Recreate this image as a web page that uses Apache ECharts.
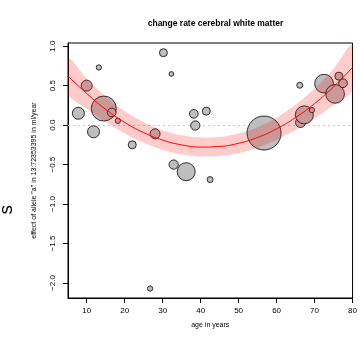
<!DOCTYPE html>
<html><head><meta charset="utf-8">
<script src="https://cdn.jsdelivr.net/npm/echarts@6/dist/echarts.min.js"></script>
<style>html,body{margin:0;padding:0;background:#fff}#c{width:360px;height:338px}</style>
</head><body><div id="c"></div>
<script>
// observed points: age, effect, weight (drawn circle diameter)
var ages    = [7.8, 10.0, 11.8, 13.2, 14.5, 16.6, 18.2, 22.0, 26.7, 28.0, 30.2, 32.3, 32.9, 36.2, 38.2, 38.6, 41.5, 42.5, 56.7, 66.1, 66.3, 67.3, 69.3, 72.5, 75.4, 76.4, 77.5];
var effects = [0.15, 0.50, -0.085, 0.73, 0.21, 0.16, 0.054, -0.25, -2.07, -0.11, 0.917, 0.648, -0.50, -0.59, 0.143, -0.005, 0.177, -0.69, -0.10, 0.505, 0.033, 0.13, 0.19, 0.525, 0.395, 0.62, 0.53];
var weights = [12, 11, 12, 5.3, 25, 8.7, 5.3, 8, 5.3, 10, 8, 4.7, 9.3, 18, 8.7, 9.3, 8, 6, 34, 6, 10, 18, 5.3, 18.7, 18.7, 8, 8.7];
// fitted curve and confidence band
var fitAges  = [5.08, 10, 15, 20, 25, 30, 35, 40, 45, 50, 55, 60, 65, 70, 75, 80];
var fitVals  = [0.62, 0.40, 0.20, 0.035, -0.095, -0.19, -0.25, -0.278, -0.27, -0.23, -0.156, -0.047, 0.097, 0.273, 0.485, 0.73];
var bandLow  = [0.39, 0.21, 0.04, -0.105, -0.225, -0.315, -0.37, -0.398, -0.39, -0.355, -0.286, -0.187, -0.063, 0.083, 0.255, 0.44];
var bandHigh = [0.85, 0.59, 0.36, 0.175, 0.035, -0.065, -0.13, -0.158, -0.15, -0.105, -0.026, 0.093, 0.257, 0.463, 0.715, 1.02];
var xTicks = [10, 20, 30, 40, 50, 60, 70, 80];
var yTicks = [-2.0, -1.5, -1.0, -0.5, 0.0, 0.5, 1.0];
var titleText = 'change rate cerebral white matter';
var xName = 'age in years';
var yName = 'effect of allele "a" in 13:72353395 in ml/year';

var chart = echarts.init(document.getElementById('c'), null, {renderer: 'canvas'});
var font = 'Liberation Sans, Arial, Helvetica, sans-serif';
var pts = ages.map(function (a, i) { return [a, effects[i], weights[i]]; });
var fitData = fitAges.map(function (a, i) { return [a, fitVals[i]]; });
var bandData = fitAges.map(function (a, i) { return [a, bandLow[i], bandHigh[i]]; });

chart.setOption({
  animation: false,
  backgroundColor: '#ffffff',
  title: {
    text: titleText, left: 210.5, top: 14, textAlign: 'center',
    textStyle: {fontFamily: font, fontSize: 8.5, fontWeight: 'bold', color: '#000'}
  },
  grid: {left: 68, top: 43, right: 7, bottom: 40, show: true, borderColor: '#000', borderWidth: 1, backgroundColor: 'transparent'},
  xAxis: {
    type: 'value', min: 5.08, max: 80,
    name: xName, nameLocation: 'middle', nameGap: 24,
    nameTextStyle: {fontFamily: font, fontSize: 7, color: '#000'},
    axisLine: {show: true, onZero: false, lineStyle: {color: '#000', width: 1}},
    axisTick: {show: true, inside: false, length: 5, customValues: xTicks, lineStyle: {color: '#000'}},
    axisLabel: {show: true, customValues: xTicks, margin: 9, fontFamily: font, fontSize: 8, color: '#000'},
    splitLine: {show: false}
  },
  yAxis: {
    type: 'value', min: -2.19, max: 1.04,
    name: yName, nameLocation: 'middle', nameGap: 30,
    nameTextStyle: {fontFamily: font, fontSize: 7, color: '#000'},
    axisLine: {show: true, onZero: false, lineStyle: {color: '#000', width: 1}},
    axisTick: {show: true, inside: false, length: 5, customValues: yTicks, lineStyle: {color: '#000'}},
    axisLabel: {show: true, customValues: yTicks, rotate: 90, margin: 11, fontFamily: font, fontSize: 8, color: '#000',
      formatter: function (v) { return (v < 0 ? '\u2212' : '') + Math.abs(v).toFixed(1); }},
    splitLine: {show: false}
  },
  series: [
    {
      type: 'scatter', data: pts, z: 2,
      symbol: 'circle',
      symbolSize: function (d) { return d[2]; },
      itemStyle: {color: '#bebebe', borderColor: '#000', borderWidth: 0.8, opacity: 1},
      markLine: {
        silent: true, symbol: 'none', label: {show: false}, z: 1,
        lineStyle: {type: [2, 3], color: '#c8c8c8', width: 1},
        data: [{yAxis: 0}]
      }
    },
    {
      type: 'custom', z: 3, silent: true, data: bandData,
      renderItem: function (params, api) {
        if (params.dataIndex !== 0) return null;
        var top = [], bot = [];
        for (var i = 0; i < bandData.length; i++) {
          top.push(api.coord([bandData[i][0], bandData[i][2]]));
          bot.unshift(api.coord([bandData[i][0], bandData[i][1]]));
        }
        var cs = params.coordSys;
        return {
          type: 'polygon',
          shape: {points: top.concat(bot), smooth: 0.3},
          style: {fill: 'rgba(255,0,0,0.2)', stroke: null},
          clipPath: {type: 'rect', shape: {x: cs.x, y: cs.y, width: cs.width, height: cs.height}}
        };
      }
    },
    {
      type: 'line', data: fitData, symbol: 'none', z: 4, smooth: true,
      lineStyle: {color: '#ff0000', width: 1}, silent: true
    }
  ],
  graphic: [{
    type: 'text', left: -3, top: 205, rotation: Math.PI / 2,
    style: {text: 's', fontFamily: font, fontSize: 19, fill: '#000'}
  }]
});
</script></body></html>
